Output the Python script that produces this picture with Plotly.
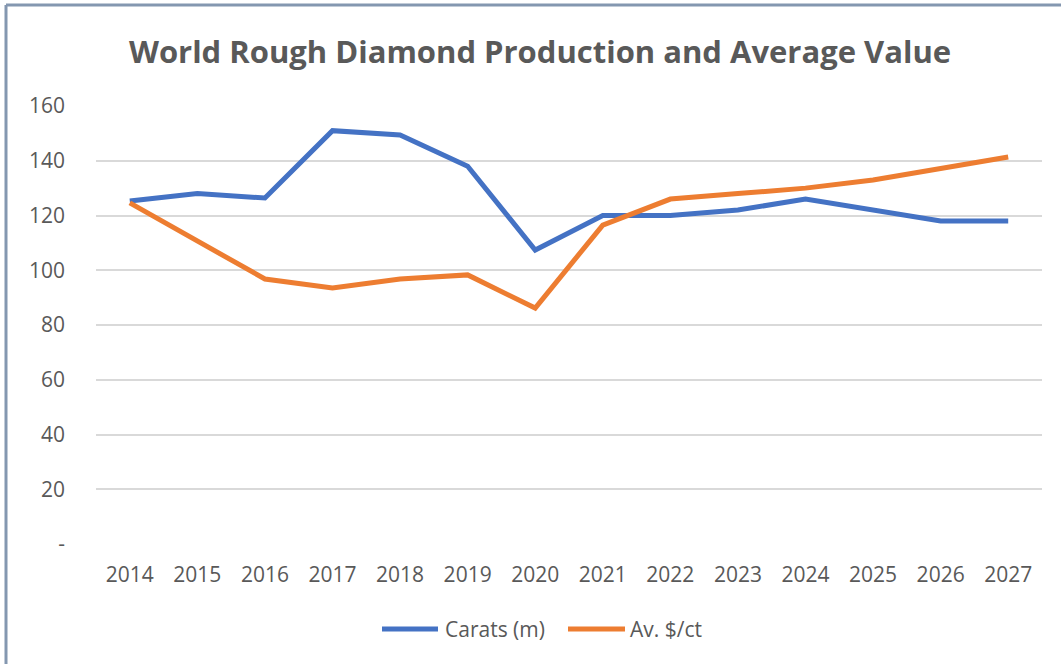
import plotly.graph_objects as go

# Data
years = ['2014', '2015', '2016', '2017', '2018', '2019', '2020',
         '2021', '2022', '2023', '2024', '2025', '2026', '2027']
carats_m = [125.3, 128.0, 126.4, 151.0, 149.4, 138.0, 107.4,
            120.0, 120.0, 122.0, 126.0, 122.0, 118.0, 118.0]
avg_usd_ct = [124.6, 110.5, 96.8, 93.5, 96.8, 98.3, 86.2,
              116.5, 126.0, 128.0, 130.0, 133.0, 137.4, 141.4]
y_ticks = [0, 20, 40, 60, 80, 100, 120, 140, 160]
y_ticktext = ['-', '20', '40', '60', '80', '100', '120', '140', '160']

series_names = ['Carats (m)', 'Av. $/ct']
series_colors = ['#4472C4', '#ED7D31']

TEXT_GREY = '#595959'
FONT = 'Open Sans'

# body margin is removed in the page (see write_html), so figure = window
W, H = 1061, 664
# plot area on screen: x 96..1042, y 106..544
L, R, T, B = 96, 1061 - 1042, 106, 664 - 544
pw, ph = W - L - R, H - T - B


def px_x(p):
    """screen x -> paper x"""
    return (p - L) / pw


def px_y(p):
    """screen y -> paper y"""
    return (H - B - p) / ph


fig = go.Figure()
for name, vals, col in zip(series_names, [carats_m, avg_usd_ct], series_colors):
    fig.add_trace(go.Scatter(
        x=years, y=vals, name=name, mode='lines',
        line=dict(color=col, width=5, shape='linear'),
        showlegend=False,
    ))

# Excel style legend: long line sample followed by the label
legend_items = [(382, 438, 443), (568, 625, 628)]
shapes = []
annotations = []
for (x0, x1, tx), name, col in zip(legend_items, series_names, series_colors):
    shapes.append(dict(type='line', xref='paper', yref='paper',
                       x0=px_x(x0), x1=px_x(x1), y0=px_y(629), y1=px_y(629),
                       line=dict(color=col, width=5)))
    annotations.append(dict(text=name, xref='paper', yref='paper',
                            x=px_x(tx), y=px_y(629), xanchor='left',
                            yanchor='middle', showarrow=False,
                            font=dict(size=21, color=TEXT_GREY, family=FONT)))

# chart frame (left and top edges visible)
shapes += [
    dict(type='line', xref='paper', yref='paper',
         x0=px_x(6), x1=px_x(6), y0=px_y(5), y1=px_y(700),
         line=dict(color='#8497B0', width=3)),
    dict(type='line', xref='paper', yref='paper',
         x0=px_x(6), x1=px_x(1100), y0=px_y(5), y1=px_y(5),
         line=dict(color='#8497B0', width=3)),
]

fig.update_layout(
    width=W, height=H,
    margin=dict(l=L, r=R, t=T, b=B),
    paper_bgcolor='white', plot_bgcolor='white',
    font=dict(family=FONT, color=TEXT_GREY, size=21),
    title=dict(
        text='<b>World Rough Diamond Production and Average Value</b>',
        x=540 / W, xanchor='center', xref='container',
        y=1 - 52 / H, yanchor='middle', yref='container',
        font=dict(family=FONT, size=31, color=TEXT_GREY),
    ),
    xaxis=dict(
        type='category', range=[-0.5, 13.5],
        showgrid=False, zeroline=False, showline=False, ticks='',
        ticklabelstandoff=16,
        tickfont=dict(size=21, color=TEXT_GREY),
    ),
    yaxis=dict(
        range=[0, 160], tickvals=y_ticks, ticktext=y_ticktext,
        showgrid=True, gridcolor='#D9D9D9', gridwidth=1.5,
        zeroline=False, showline=False, ticks='',
        ticklabelstandoff=30,
        tickfont=dict(size=21, color=TEXT_GREY),
    ),
    showlegend=False,
    shapes=shapes,
    annotations=annotations,
)

fig.write_html(
    "out.html",
    config={'displayModeBar': False},
    post_script="document.body.style.margin = '0';",
)
